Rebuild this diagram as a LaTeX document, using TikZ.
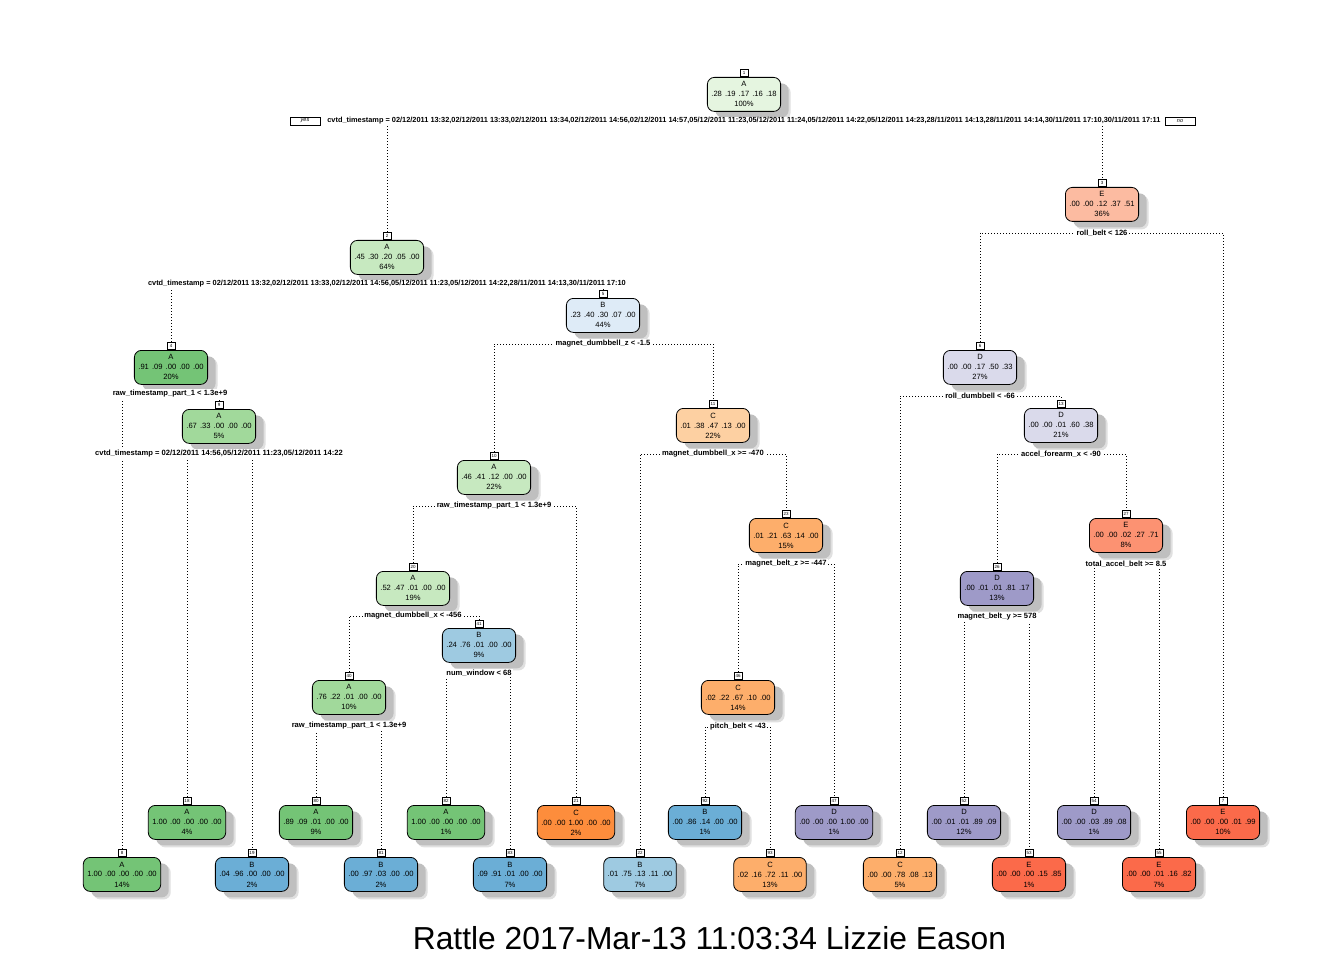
\documentclass[tikz,border=0pt]{standalone}
\usepackage{fontspec}
\setmainfont{Liberation Sans}
\usetikzlibrary{shadows}
\pgfdeclarelayer{back}
\pgfdeclarelayer{bg}
\pgfsetlayers{back,bg,main}
\definecolor{A1}{HTML}{E5F5E0}
\definecolor{A2}{HTML}{C7E9C0}
\definecolor{A3}{HTML}{A1D99B}
\definecolor{A4}{HTML}{74C476}
\definecolor{B1}{HTML}{DEEBF7}
\definecolor{B3}{HTML}{9ECAE1}
\definecolor{B4}{HTML}{6BAED6}
\definecolor{C2}{HTML}{FDD0A2}
\definecolor{C3}{HTML}{FDAE6B}
\definecolor{C4}{HTML}{FD8D3C}
\definecolor{D2}{HTML}{DADAEB}
\definecolor{D4}{HTML}{9E9AC8}
\definecolor{E2}{HTML}{FCBBA1}
\definecolor{E3}{HTML}{FC9272}
\definecolor{E4}{HTML}{FB6A4A}
\newcommand\nbt[7]{#1\\#2\hspace{3.1pt}#3\hspace{3.1pt}#4\hspace{3.1pt}#5\hspace{3.1pt}#6\\#7}
\newcommand\mkbox[5]{\node[nodebox, fill=#4] (n#1) at (#2,#3) {#5};}
\tikzset{
  nodebox/.style={draw=black, line width=0.8pt, rounded corners=7pt, align=center,
    anchor=north, inner xsep=4pt, inner ysep=2pt, minimum height=34pt,
    font=\fontsize{7.6}{10}\selectfont,
    drop shadow={shadow xshift=10pt, shadow yshift=-8pt, fill=black!12, opacity=1},
    drop shadow={shadow xshift=8pt, shadow yshift=-6pt, fill=black!25, opacity=1}},
  tagbox/.style={draw=black, line width=0.6pt, fill=white, anchor=south, inner sep=0.6pt,
    minimum width=8pt, minimum height=7.5pt, font=\fontsize{4.5}{5}\selectfont},
  splitlab/.style={fill=white, inner xsep=1.2pt, inner ysep=1pt,
    font=\bfseries\fontsize{7.6}{9}\selectfont},
  longlab/.style={splitlab, font=\bfseries\fontsize{7.38}{9}\selectfont},
  branch/.style={line width=0.9pt, dash pattern=on 0.9pt off 2.1pt},
  yesno/.style={draw=black, line width=0.6pt, minimum width=30pt, minimum height=8pt,
    inner sep=0.5pt, font=\itshape\fontsize{5.5}{6}\selectfont}
}
\begin{document}
\begin{tikzpicture}[x=1pt,y=-1pt]
\begin{pgfonlayer}{back}
\useasboundingbox[fill=white] (0,0) rectangle (1344,960);
\end{pgfonlayer}
% nodes
\mkbox{1}{744}{77}{A1}{\nbt{A}{.28}{.19}{.17}{.16}{.18}{100\%}}
\mkbox{2}{387}{240}{A2}{\nbt{A}{.45}{.30}{.20}{.05}{.00}{64\%}}
\mkbox{3}{1102}{187}{E2}{\nbt{E}{.00}{.00}{.12}{.37}{.51}{36\%}}
\mkbox{4}{171}{350}{A4}{\nbt{A}{.91}{.09}{.00}{.00}{.00}{20\%}}
\mkbox{5}{603}{298}{B1}{\nbt{B}{.23}{.40}{.30}{.07}{.00}{44\%}}
\mkbox{6}{980}{350}{D2}{\nbt{D}{.00}{.00}{.17}{.50}{.33}{27\%}}
\mkbox{7}{1223}{805}{E4}{\nbt{E}{.00}{.00}{.00}{.01}{.99}{10\%}}
\mkbox{8}{122}{857}{A4}{\nbt{A}{1.00}{.00}{.00}{.00}{.00}{14\%}}
\mkbox{9}{219}{409}{A3}{\nbt{A}{.67}{.33}{.00}{.00}{.00}{5\%}}
\mkbox{10}{494}{460}{A2}{\nbt{A}{.46}{.41}{.12}{.00}{.00}{22\%}}
\mkbox{11}{713}{408}{C2}{\nbt{C}{.01}{.38}{.47}{.13}{.00}{22\%}}
\mkbox{12}{900}{857}{C3}{\nbt{C}{.00}{.00}{.78}{.08}{.13}{5\%}}
\mkbox{13}{1061}{408}{D2}{\nbt{D}{.00}{.00}{.01}{.60}{.38}{21\%}}
\mkbox{18}{187}{805}{A4}{\nbt{A}{1.00}{.00}{.00}{.00}{.00}{4\%}}
\mkbox{19}{252}{857}{B4}{\nbt{B}{.04}{.96}{.00}{.00}{.00}{2\%}}
\mkbox{20}{413}{571}{A2}{\nbt{A}{.52}{.47}{.01}{.00}{.00}{19\%}}
\mkbox{21}{576}{805}{C4}{\nbt{C}{.00}{.00}{1.00}{.00}{.00}{2\%}}
\mkbox{22}{640}{857}{B3}{\nbt{B}{.01}{.75}{.13}{.11}{.00}{7\%}}
\mkbox{23}{786}{518}{C3}{\nbt{C}{.01}{.21}{.63}{.14}{.00}{15\%}}
\mkbox{26}{997}{571}{D4}{\nbt{D}{.00}{.01}{.01}{.81}{.17}{13\%}}
\mkbox{27}{1126}{518}{E3}{\nbt{E}{.00}{.00}{.02}{.27}{.71}{8\%}}
\mkbox{40}{349}{680}{A3}{\nbt{A}{.76}{.22}{.01}{.00}{.00}{10\%}}
\mkbox{41}{479}{628}{B3}{\nbt{B}{.24}{.76}{.01}{.00}{.00}{9\%}}
\mkbox{46}{738}{680}{C3}{\nbt{C}{.02}{.22}{.67}{.10}{.00}{14\%}}
\mkbox{47}{834}{805}{D4}{\nbt{D}{.00}{.00}{.00}{1.00}{.00}{1\%}}
\mkbox{52}{964}{805}{D4}{\nbt{D}{.00}{.01}{.01}{.89}{.09}{12\%}}
\mkbox{53}{1029}{857}{E4}{\nbt{E}{.00}{.00}{.00}{.15}{.85}{1\%}}
\mkbox{54}{1094}{805}{D4}{\nbt{D}{.00}{.00}{.03}{.89}{.08}{1\%}}
\mkbox{55}{1159}{857}{E4}{\nbt{E}{.00}{.00}{.01}{.16}{.82}{7\%}}
\mkbox{80}{316}{805}{A4}{\nbt{A}{.89}{.09}{.01}{.00}{.00}{9\%}}
\mkbox{81}{381}{857}{B4}{\nbt{B}{.00}{.97}{.03}{.00}{.00}{2\%}}
\mkbox{82}{446}{805}{A4}{\nbt{A}{1.00}{.00}{.00}{.00}{.00}{1\%}}
\mkbox{83}{510}{857}{B4}{\nbt{B}{.09}{.91}{.01}{.00}{.00}{7\%}}
\mkbox{92}{705}{805}{B4}{\nbt{B}{.00}{.86}{.14}{.00}{.00}{1\%}}
\mkbox{93}{770}{857}{C3}{\nbt{C}{.02}{.16}{.72}{.11}{.00}{13\%}}
% split labels
\node[longlab] (l1) at (744,121) {cvtd\_timestamp = 02/12/2011 13:32,02/12/2011 13:33,02/12/2011 13:34,02/12/2011 14:56,02/12/2011 14:57,05/12/2011 11:23,05/12/2011 11:24,05/12/2011 14:22,05/12/2011 14:23,28/11/2011 14:13,28/11/2011 14:14,30/11/2011 17:10,30/11/2011 17:11};
\node[yesno] (yes) at (305,121) {yes};
\node[yesno] (no) at (1180,121) {no};
\node[longlab] (l2) at (387,284) {cvtd\_timestamp = 02/12/2011 13:32,02/12/2011 13:33,02/12/2011 14:56,05/12/2011 11:23,05/12/2011 14:22,28/11/2011 14:13,30/11/2011 17:10};
\node[splitlab] (l3) at (1102,233) {roll\_belt < 126};
\node[splitlab] (l4) at (170,394) {raw\_timestamp\_part\_1 < 1.3e+9};
\node[splitlab] (l5) at (603,344) {magnet\_dumbbell\_z < -1.5};
\node[splitlab] (l6) at (980,396) {roll\_dumbbell < -66};
\node[splitlab] (l9) at (219,454) {cvtd\_timestamp = 02/12/2011 14:56,05/12/2011 11:23,05/12/2011 14:22};
\node[splitlab] (l10) at (494,506) {raw\_timestamp\_part\_1 < 1.3e+9};
\node[splitlab] (l11) at (713,454) {magnet\_dumbbell\_x >= -470};
\node[splitlab] (l13) at (1061,454) {accel\_forearm\_x < -90};
\node[splitlab] (l20) at (413,616) {magnet\_dumbbell\_x < -456};
\node[splitlab] (l23) at (786,564) {magnet\_belt\_z >= -447};
\node[splitlab] (l26) at (997,617) {magnet\_belt\_y >= 578};
\node[splitlab] (l27) at (1126,564) {total\_accel\_belt >= 8.5};
\node[splitlab] (l40) at (349,726) {raw\_timestamp\_part\_1 < 1.3e+9};
\node[splitlab] (l41) at (479,673) {num\_window < 68};
\node[splitlab] (l46) at (738,727) {pitch\_belt < -43};
% tags
\foreach \i in {1,2,3,4,5,6,7,8,9,10,11,12,13,18,19,20,21,22,23,26,27,40,41,46,47,52,53,54,55,80,81,82,83,92,93}
  {\node[tagbox] (t\i) at (n\i.north) {\i};}
% branches
\begin{pgfonlayer}{bg}
\draw[branch] (t2.north) |- (l1.center) -| (t3.north);
\draw[branch] (t4.north) |- (l2.center) -| (t5.north);
\draw[branch] (t6.north) |- (l3.center) -| (t7.north);
\draw[branch] (t8.north) |- (l4.center) -| (t9.north);
\draw[branch] (t10.north) |- (l5.center) -| (t11.north);
\draw[branch] (t12.north) |- (l6.center) -| (t13.north);
\draw[branch] (t18.north) |- (l9.center) -| (t19.north);
\draw[branch] (t20.north) |- (l10.center) -| (t21.north);
\draw[branch] (t22.north) |- (l11.center) -| (t23.north);
\draw[branch] (t26.north) |- (l13.center) -| (t27.north);
\draw[branch] (t40.north) |- (l20.center) -| (t41.north);
\draw[branch] (t46.north) |- (l23.center) -| (t47.north);
\draw[branch] (t52.north) |- (l26.center) -| (t53.north);
\draw[branch] (t54.north) |- (l27.center) -| (t55.north);
\draw[branch] (t80.north) |- (l40.center) -| (t81.north);
\draw[branch] (t82.north) |- (l41.center) -| (t83.north);
\draw[branch] (t92.north) |- (l46.center) -| (t93.north);
\end{pgfonlayer}
% title
\node[font=\fontsize{31.8}{36}\selectfont] (title) at (709.5,938) {Rattle 2017-Mar-13 11:03:34 Lizzie Eason};
\end{tikzpicture}
\end{document}
